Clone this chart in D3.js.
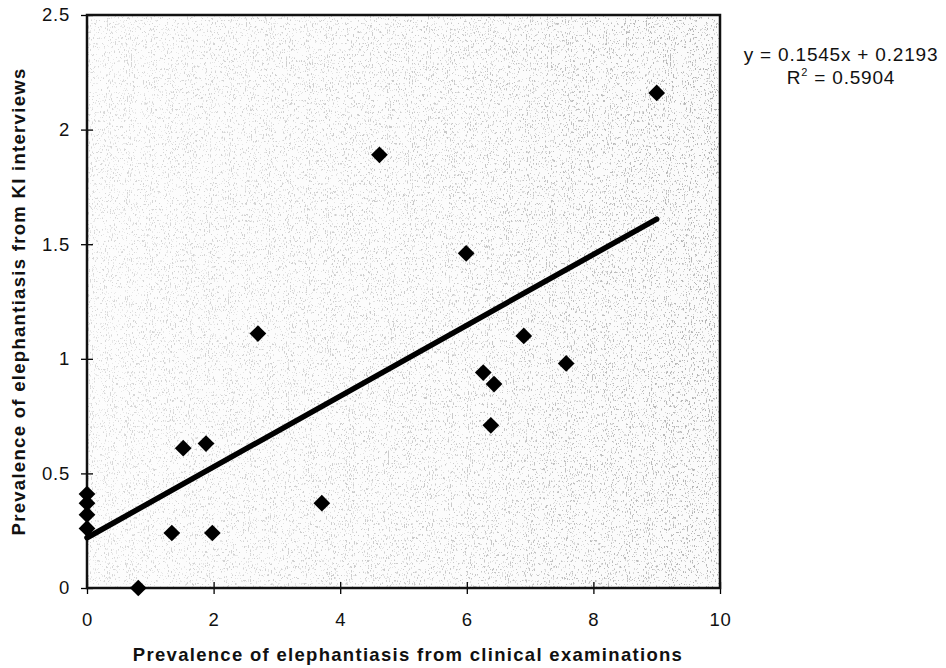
<!DOCTYPE html>
<html>
<head>
<meta charset="utf-8">
<script src="https://cdn.jsdelivr.net/npm/d3@7"></script>
<style>
  html, body { margin: 0; padding: 0; background: #fff; }
  svg { display: block; font-family: "Liberation Sans", Arial, Helvetica, sans-serif; }
</style>
</head>
<body>
<svg id="chart" width="946" height="668"></svg>
<script>
// Prevalence from clinical examinations (x) vs. key-informant interviews (y)
const clinicalPrev = [0, 0, 0, 0, 0.81, 1.34, 1.52, 1.88, 1.98, 2.70, 3.71, 4.62, 5.99, 6.26, 6.38, 6.43, 6.90, 7.57, 9.00];
const kiPrev       = [0.41, 0.37, 0.32, 0.26, 0.00, 0.24, 0.61, 0.63, 0.24, 1.11, 0.37, 1.89, 1.46, 0.94, 0.71, 0.89, 1.10, 0.98, 2.16];

// Linear trend reported with the data
const slope = 0.1545;
const intercept = 0.2193;
const rSquared = "0.5904";

const xTicks = [0, 2, 4, 6, 8, 10];
const yTicks = [0, 0.5, 1, 1.5, 2, 2.5];

const xTitle = "Prevalence of elephantiasis from clinical examinations";
const yTitle = "Prevalence of elephantiasis from KI interviews";

const svg = d3.select("#chart");
const margin = { left: 87, right: 226, top: 15, bottom: 80 };
const W = 946, H = 668;

const x = d3.scaleLinear().domain([0, 10]).range([margin.left, W - margin.right]);
const y = d3.scaleLinear().domain([0, 2.5]).range([H - margin.bottom, margin.top]);

const px = x(0), py = y(2.5), pw = x(10) - x(0), ph = y(0) - y(2.5);

// Stippled grey fill for the plotting area, a little denser towards the right
const defs = svg.append("defs");
const f = defs.append("filter").attr("id", "stipple")
  .attr("x", 0).attr("y", 0).attr("width", 1).attr("height", 1);
f.append("feTurbulence").attr("type", "fractalNoise")
  .attr("baseFrequency", "0.95 0.35").attr("numOctaves", 3).attr("seed", 11).attr("result", "n");
f.append("feColorMatrix").attr("in", "n").attr("type", "matrix")
  .attr("values", "0 0 0 0 0  0 0 0 0 0  0 0 0 0 0  -3 0 0 0 1.7")
  .attr("result", "dots");
f.append("feComponentTransfer").attr("in", "dots")
  .append("feFuncA").attr("type", "discrete").attr("tableValues", "0 0 0 0.4 0.75");

const grad = defs.append("linearGradient").attr("id", "shade")
  .attr("x1", 0).attr("x2", 1).attr("y1", 0).attr("y2", 0);
grad.append("stop").attr("offset", 0).attr("stop-color", "#fff").attr("stop-opacity", 0.55);
grad.append("stop").attr("offset", 0.6).attr("stop-color", "#fff").attr("stop-opacity", 0.35);
grad.append("stop").attr("offset", 1).attr("stop-color", "#fff").attr("stop-opacity", 0.1);

const mask = defs.append("mask").attr("id", "fade");
mask.append("rect").attr("x", px).attr("y", py).attr("width", pw).attr("height", ph).attr("fill", "#fff");
mask.append("rect").attr("x", px).attr("y", py).attr("width", pw).attr("height", ph).attr("fill", "url(#shade)")
  .style("mix-blend-mode", "normal");

svg.append("rect")
  .attr("x", px).attr("y", py).attr("width", pw).attr("height", ph)
  .attr("fill", "#fafafa");
svg.append("rect")
  .attr("x", px).attr("y", py).attr("width", pw).attr("height", ph)
  .attr("fill", "#fff")
  .attr("filter", "url(#stipple)")
  .attr("opacity", 0.42);
svg.append("rect")
  .attr("x", px).attr("y", py).attr("width", pw).attr("height", ph)
  .attr("fill", "url(#shade)");

// Axes with ticks crossing the frame
const xAxis = svg.append("g")
  .attr("transform", `translate(0,${y(0)})`)
  .call(d3.axisBottom(x).tickValues(xTicks).tickSize(6).tickSizeOuter(0).tickPadding(19));
xAxis.selectAll(".tick line").attr("y1", -6).attr("stroke-width", 1.3);
const yAxis = svg.append("g")
  .attr("transform", `translate(${x(0)},0)`)
  .call(d3.axisLeft(y).tickValues(yTicks).tickSize(6).tickSizeOuter(0).tickPadding(11)
    .tickFormat(d3.format("")));
yAxis.selectAll(".tick line").attr("x1", 6).attr("stroke-width", 1.3);
[xAxis, yAxis].forEach(g => {
  g.select(".domain").remove();
  g.selectAll("text").attr("font-size", 18.5).attr("fill", "#111").attr("letter-spacing", 0.8);
});

// Frame
svg.append("rect")
  .attr("x", px).attr("y", py).attr("width", pw).attr("height", ph)
  .attr("fill", "none").attr("stroke", "#111").attr("stroke-width", 2.5);

// Trend line across the observed x range
const xMax = d3.max(clinicalPrev);
svg.append("line")
  .attr("x1", x(0)).attr("y1", y(intercept))
  .attr("x2", x(xMax)).attr("y2", y(slope * xMax + intercept))
  .attr("stroke", "#000").attr("stroke-width", 5.5).attr("stroke-linecap", "round");

// Diamond markers
const diamond = d3.symbol().type(d3.symbolSquare).size(140);
svg.append("g").selectAll("path")
  .data(clinicalPrev.map((v, i) => [v, kiPrev[i]]))
  .join("path")
  .attr("d", diamond)
  .attr("transform", d => `translate(${x(d[0])},${y(d[1])}) rotate(45)`)
  .attr("fill", "#000");

// Axis titles
svg.append("text")
  .attr("x", 408).attr("y", 661)
  .attr("text-anchor", "middle").attr("font-size", 18.5).attr("font-weight", "bold")
  .attr("letter-spacing", 1.3)
  .attr("fill", "#111").text(xTitle);
svg.append("text")
  .attr("transform", `translate(25,${(y(0) + y(2.5)) / 2}) rotate(-90)`)
  .attr("text-anchor", "middle").attr("font-size", 18.5).attr("font-weight", "bold")
  .attr("letter-spacing", 1.3)
  .attr("fill", "#111").text(yTitle);

// Regression equation
const eq = svg.append("g").attr("font-size", 19).attr("fill", "#111")
  .attr("text-anchor", "middle").attr("letter-spacing", 0.8);
eq.append("text").attr("x", 841).attr("y", 61)
  .text(`y = ${slope}x + ${intercept}`);
const r2 = eq.append("text").attr("x", 841).attr("y", 84);
r2.append("tspan").text("R");
r2.append("tspan").attr("font-size", 11).attr("dy", -8).text("2");
r2.append("tspan").attr("dy", 8).text(` = ${rSquared}`);
</script>
</body>
</html>
